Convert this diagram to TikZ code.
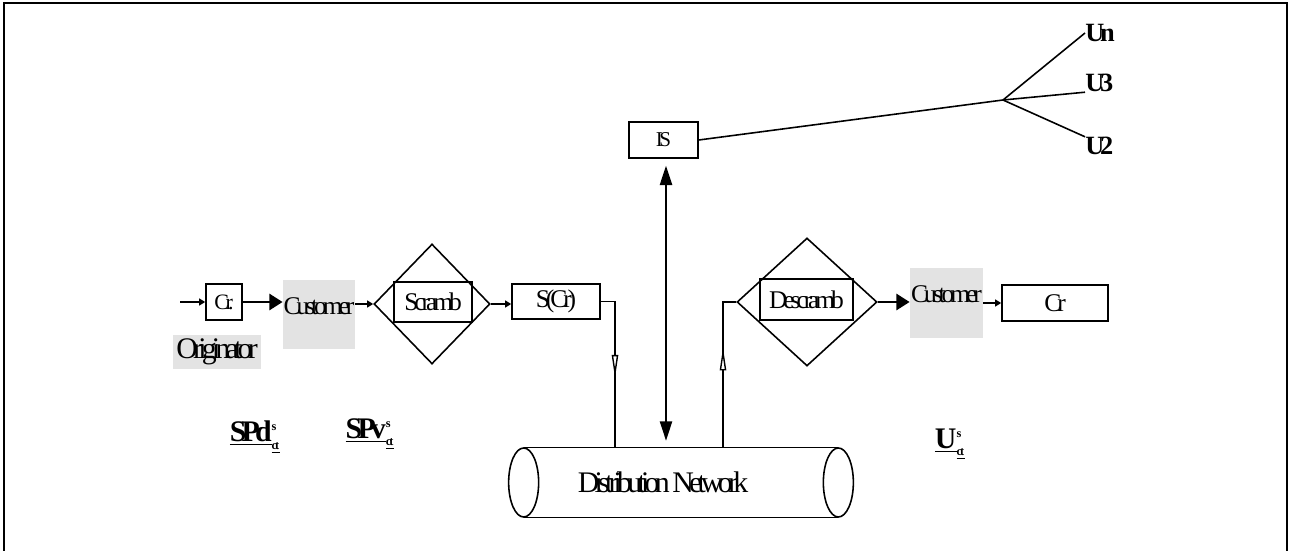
\documentclass[tikz,border=0pt]{standalone}
\usepackage{fontspec}
\setmainfont{Liberation Serif}[LetterSpace=-16]
\usetikzlibrary{arrows.meta,shapes.geometric,decorations.markings}

\tikzset{
    wire/.style={line width=0.9pt},
    box/.style={draw, line width=0.9pt, inner sep=0pt},
    greybox/.style={fill=black!11, inner sep=0pt, text height=10pt, text depth=10pt},
    rhomb/.style={draw, diamond, line width=0.9pt, inner sep=0pt},
    lbl/.style={font=\fontsize{14.5}{14.5}\selectfont},
    biglbl/.style={font=\fontsize{17}{17}\selectfont},
    boldlbl/.style={font=\fontsize{15}{15}\selectfont\bfseries, inner sep=0pt},
    taglbl/.style={font=\fontsize{17}{17}\selectfont\bfseries, inner sep=0pt},
    fatarr/.style={line width=1.7pt, -{Triangle[length=7.5pt, width=9pt]}},
    tinyarr/.style={line width=0.9pt, -{Triangle[length=3.5pt, width=4pt]}},
    bothtips/.style={line width=0.9pt, {Triangle[length=11pt, width=7pt]}-{Triangle[length=11pt, width=7pt]}},
    hollowtip/.style={decoration={markings, mark=at position #1 with
        {\arrow{Triangle[fill=white, length=13pt, width=3.6pt, line width=0.8pt]}}}, postaction=decorate},
}

\newcommand{\tagsub}{$^{\mbox{\scriptsize s}}_{\underline{\mbox{\scriptsize ct}}}$}

\begin{document}
\begin{tikzpicture}[x=0.2mm, y=-0.2mm]
    \useasboundingbox (0,0) rectangle (1289,551);
    \draw[line width=1.1pt] (4,551) -- (4,3) -- (1287,3) -- (1287,551);

    % originator side
    \coordinate (in) at (180,302);
    \node[box, font=\fontsize{12.5}{12.5}\selectfont, minimum width=7.2mm, minimum height=7.2mm] (gr) at (224,302) {Cr.};
    \node[fill=black!11, inner sep=0pt, biglbl, minimum width=17.6mm, minimum height=6.8mm] (orig) at (217,352) {Originator};
    \node[greybox, lbl, minimum width=14.4mm, minimum height=13.8mm] (cust1) at (319,314.5) {Customer};
    \node[rhomb, minimum width=23.2mm, minimum height=24mm] (scr) at (432,304) {};
    \node[box, lbl, minimum width=15.6mm, minimum height=8mm] (scrbox) at (433,302) {Scramb};
    \node[box, lbl, minimum width=17.6mm, minimum height=7mm] (sg) at (556,301.5) {S(Cr)};

    \draw[tinyarr] (in) -- (gr);
    \draw[fatarr] (gr) -- (gr -| cust1.west);
    \draw[tinyarr] (cust1.east |- scr.west) -- (scr.west);
    \draw[tinyarr] (scr.east) -- (scr.east -| sg.west);

    % network and IS
    \node[minimum width=62.8mm, minimum height=13.8mm, inner sep=0pt] (net) at (681,482.5) {};
    \node[biglbl] (netlbl) at ([xshift=-3.6mm]net.center) {Distribution Network};
    \draw[wire] (net.north west) -- (net.north east) (net.south west) -- (net.south east);
    \draw[wire] (net.west) ellipse [x radius=3mm, y radius=6.9mm];
    \draw[wire] (net.east) ellipse [x radius=3mm, y radius=6.9mm];

    \node[box, font=\fontsize{12}{12}\selectfont, minimum width=13.8mm, minimum height=7.2mm] (is) at (663.5,140) {IS};
    \draw[bothtips, shorten <=1.4mm, shorten >=1.4mm] ([xshift=0.5mm]is.south) -- ([xshift=0.5mm]is.south |- net.north);

    \draw[wire, hollowtip=18.1mm] (sg.east) -| ([xshift=-13.2mm]net.north);

    % users
    \coordinate (hub) at (1003,100);
    \draw[wire] (is.east) -- (hub);
    \foreach \u/\y/\a in {Un/33/west, U3/83/south west, U2/146/north west} {
        \node[boldlbl, anchor=west] (lbl\u) at (1085,\y) {\u};
        \draw[wire] (hub) -- (lbl\u.\a);
    }

    % receiver side
    \node[rhomb, minimum width=28mm, minimum height=25.6mm] (desc) at (807,302) {};
    \node[box, lbl, minimum width=18.6mm, minimum height=8.2mm] (descbox) at (806.5,299.5) {Descramb};
    \node[greybox, lbl, minimum width=14.6mm, minimum height=14mm] (cust2) at (946.5,303) {Customer};
    \node[box, lbl, minimum width=21.2mm, minimum height=7.2mm] (fin) at (1055,303) {Cr};

    \draw[wire, hollowtip=20mm] ([xshift=8.4mm]net.north) |- (desc.west);
    \draw[fatarr] (desc.east) -- (desc.east -| cust2.west);
    \draw[tinyarr] (cust2.east |- fin) -- (fin.west);

    % bottom tags
    \node[taglbl] (spd) at (255,437) {\underline{SPd}\tagsub};
    \node[taglbl] (spv) at (370,434) {\underline{SPv}\tagsub};
    \node[taglbl] (ust) at (950,444) {\underline{U}\tagsub};
\end{tikzpicture}
\end{document}
